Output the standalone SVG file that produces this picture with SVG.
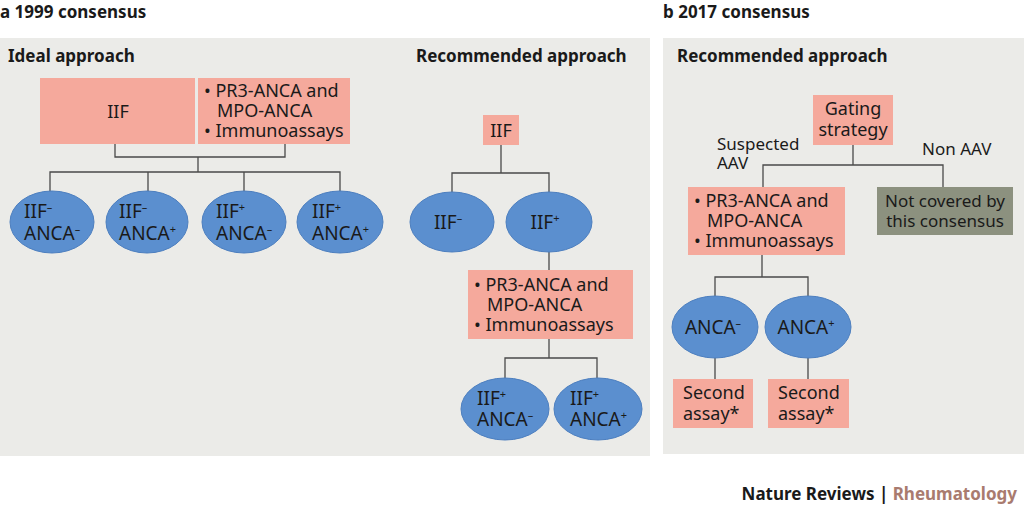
<svg xmlns="http://www.w3.org/2000/svg" width="1024" height="513" viewBox="0 0 1024 513">
<style>
text{font-family:"Noto Sans","Open Sans","Liberation Sans",sans-serif;fill:#1a1a1a}
.t{font-size:18px}
.e{font-size:19px}
.s{font-size:17px}
.h{font-size:17px;font-weight:bold}
.m{text-anchor:middle}
.box{fill:#f5a99c}
.grey{fill:#8c917f}
.ell{fill:#5b8fcf;stroke:#4d7fbf;stroke-width:1}
.ln{fill:none;stroke:#4a4a4a;stroke-width:1.3}
.sup{font-size:11px}
</style>
<rect width="1024" height="513" fill="#ffffff"/>
<text x="0" y="18" class="h">a 1999 consensus</text>
<text x="663" y="18" class="h">b 2017 consensus</text>
<rect x="0" y="38" width="650" height="418" fill="#ebebe8"/>
<rect x="663" y="38" width="361" height="416" fill="#ebebe8"/>
<text x="8" y="62" class="h">Ideal approach</text>
<text x="416" y="62" class="h">Recommended approach</text>
<text x="677" y="62" class="h">Recommended approach</text>

<g id="connectors">
<path class="ln" d="M115 144V157H285V144M198 157V172M50 193V172H340V193M148 172V193M244 172V193"/>
<path class="ln" d="M501 145V173M452 193V173H549V193M549 252V270M549 339V358M505 378V358H597V378"/>
<path class="ln" d="M853 145V165M763 187V165H943V187M762 255V277M715 297V277H808V297M715 358V379M808 358V379"/>
</g>

<g id="ideal-iif"><rect class="box" x="40" y="78" width="155" height="66"/><text x="118" y="118" class="t m">IIF</text></g>
<g id="ideal-assays"><rect class="box" x="198" y="78" width="152" height="66"/>
<text class="t"><tspan x="204" y="97">• PR3-ANCA and</tspan><tspan x="217" y="117">MPO-ANCA</tspan><tspan x="204" y="137">• Immunoassays</tspan></text></g>
<g id="e1"><ellipse class="ell" cx="52" cy="222" rx="42" ry="31"/><text class="e"><tspan x="24" y="218">IIF</tspan><tspan class="sup" dy="-7">–</tspan><tspan x="24" y="240">ANCA</tspan><tspan class="sup" dy="-7">–</tspan></text></g>
<g id="e2"><ellipse class="ell" cx="147" cy="222" rx="41" ry="31"/><text class="e"><tspan x="119" y="218">IIF</tspan><tspan class="sup" dy="-7">–</tspan><tspan x="119" y="240">ANCA</tspan><tspan class="sup" dy="-7">+</tspan></text></g>
<g id="e3"><ellipse class="ell" cx="244" cy="222" rx="42" ry="31"/><text class="e"><tspan x="216" y="218">IIF</tspan><tspan class="sup" dy="-7">+</tspan><tspan x="216" y="240">ANCA</tspan><tspan class="sup" dy="-7">–</tspan></text></g>
<g id="e4"><ellipse class="ell" cx="340" cy="222" rx="43" ry="31"/><text class="e"><tspan x="312" y="218">IIF</tspan><tspan class="sup" dy="-7">+</tspan><tspan x="312" y="240">ANCA</tspan><tspan class="sup" dy="-7">+</tspan></text></g>

<g id="rec-iif"><rect class="box" x="483" y="115" width="36" height="30"/><text x="501" y="137" class="t m">IIF</text></g>
<g id="rec-neg"><ellipse class="ell" cx="452" cy="222" rx="42" ry="30"/><text x="448" y="229" class="e m">IIF<tspan class="sup" dy="-7">–</tspan></text></g>
<g id="rec-pos"><ellipse class="ell" cx="549" cy="222" rx="43" ry="30"/><text x="545" y="229" class="e m">IIF<tspan class="sup" dy="-7">+</tspan></text></g>
<g id="rec-assays"><rect class="box" x="468" y="270" width="165" height="69"/>
<text class="t"><tspan x="474" y="291">• PR3-ANCA and</tspan><tspan x="487" y="311">MPO-ANCA</tspan><tspan x="474" y="331">• Immunoassays</tspan></text></g>
<g id="rec-e1"><ellipse class="ell" cx="505" cy="409" rx="44" ry="31"/><text class="e"><tspan x="477" y="405">IIF</tspan><tspan class="sup" dy="-7">+</tspan><tspan x="477" y="426">ANCA</tspan><tspan class="sup" dy="-7">–</tspan></text></g>
<g id="rec-e2"><ellipse class="ell" cx="598" cy="409" rx="44" ry="31"/><text class="e"><tspan x="570" y="405">IIF</tspan><tspan class="sup" dy="-7">+</tspan><tspan x="570" y="426">ANCA</tspan><tspan class="sup" dy="-7">+</tspan></text></g>

<g id="gating"><rect class="box" x="813" y="95" width="80" height="50"/><text class="t m"><tspan x="853" y="115">Gating</tspan><tspan x="853" y="136">strategy</tspan></text></g>
<text class="s"><tspan x="717" y="150">Suspected</tspan><tspan x="717" y="169">AAV</tspan></text>
<text x="922" y="155" class="s">Non AAV</text>
<g id="b-assays"><rect class="box" x="688" y="187" width="157" height="68"/>
<text class="t"><tspan x="694" y="207">• PR3-ANCA and</tspan><tspan x="707" y="227">MPO-ANCA</tspan><tspan x="694" y="247">• Immunoassays</tspan></text></g>
<g id="notcovered"><rect class="grey" x="877" y="187" width="136" height="48"/><text class="s m"><tspan x="945" y="207">Not covered by</tspan><tspan x="945" y="227">this consensus</tspan></text></g>
<g id="b-neg"><ellipse class="ell" cx="715" cy="327" rx="43" ry="31"/><text x="713" y="334" class="e m">ANCA<tspan class="sup" dy="-7">–</tspan></text></g>
<g id="b-pos"><ellipse class="ell" cx="808" cy="327" rx="43" ry="31"/><text x="806" y="334" class="e m">ANCA<tspan class="sup" dy="-7">+</tspan></text></g>
<g id="second1"><rect class="box" x="673" y="379" width="80" height="49"/><text class="t"><tspan x="683" y="399">Second</tspan><tspan x="683" y="420">assay*</tspan></text></g>
<g id="second2"><rect class="box" x="768" y="379" width="81" height="49"/><text class="t"><tspan x="778" y="399">Second</tspan><tspan x="778" y="420">assay*</tspan></text></g>

<text x="1017" y="500" class="h" text-anchor="end">Nature Reviews | <tspan fill="#a97b6f">Rheumatology</tspan></text>
</svg>
